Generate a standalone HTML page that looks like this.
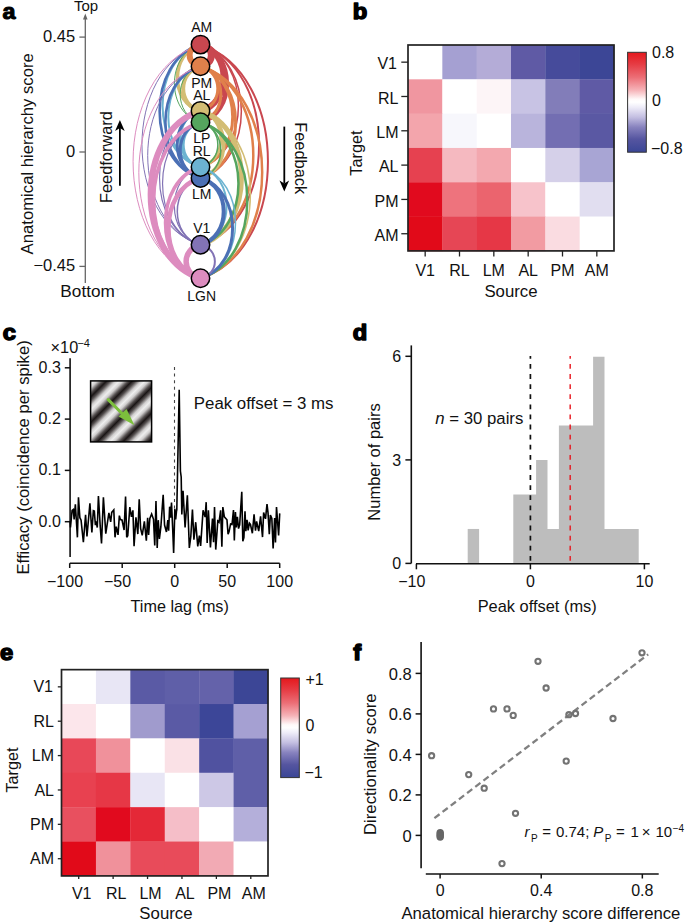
<!DOCTYPE html>
<html><head><meta charset="utf-8"><style>
html,body{margin:0;padding:0;background:#fff;width:685px;height:923px;overflow:hidden;}
svg{display:block;font-family:"Liberation Sans", sans-serif;}
</style></head><body>
<svg width="685" height="923" viewBox="0 0 685 923" font-family='"Liberation Sans", sans-serif'>
<rect width="685" height="923" fill="#fff"/>
<text transform="translate(2.60,19.00) scale(1.1,1.0)" x="0" y="0" font-size="21.2" font-weight="bold" fill="#000" stroke="#000" stroke-width="1.0" stroke-linejoin="round">a</text>
<line x1="85.30" y1="18.50" x2="85.30" y2="283.00" stroke="#666" stroke-width="1.3" stroke-linecap="butt"/>
<path d="M83.00,19.5 L85.30,13.6 L87.60,19.5 Z" fill="#666"/>
<line x1="79.40" y1="37.10" x2="85.30" y2="37.10" stroke="#666" stroke-width="1.3" stroke-linecap="butt"/>
<text x="75.20" y="41.50" font-size="16.5" text-anchor="end" font-weight="normal" fill="#111">0.45</text>
<line x1="79.40" y1="152.00" x2="85.30" y2="152.00" stroke="#666" stroke-width="1.3" stroke-linecap="butt"/>
<text x="75.20" y="157.30" font-size="16.5" text-anchor="end" font-weight="normal" fill="#111">0</text>
<line x1="79.40" y1="266.40" x2="85.30" y2="266.40" stroke="#666" stroke-width="1.3" stroke-linecap="butt"/>
<text x="75.20" y="271.40" font-size="16.5" text-anchor="end" font-weight="normal" fill="#111">−0.45</text>
<text x="86.00" y="10.80" font-size="15" text-anchor="middle" font-weight="normal" fill="#111">Top</text>
<text x="87.60" y="297.00" font-size="17.2" text-anchor="middle" font-weight="normal" fill="#111">Bottom</text>
<text x="33.30" y="153.80" font-size="16.7" text-anchor="middle" font-weight="normal" fill="#111" transform="rotate(-90 33.30 153.80)">Anatomical hierarchy score</text>
<text x="112.00" y="157.10" font-size="16.4" text-anchor="middle" font-weight="normal" fill="#111" transform="rotate(-90 112.00 157.10)">Feedforward</text>
<text x="294.50" y="158.20" font-size="16.4" text-anchor="middle" font-weight="normal" fill="#111" transform="rotate(90 294.50 158.20)">Feedback</text>
<line x1="119.90" y1="185.70" x2="119.90" y2="128.10" stroke="#000" stroke-width="1.8" stroke-linecap="butt"/>
<path d="M119.90,120.10 L115.10,131.10 L119.90,128.10 L124.70,131.10 Z" fill="#000"/>
<line x1="284.30" y1="126.60" x2="284.30" y2="183.60" stroke="#000" stroke-width="1.8" stroke-linecap="butt"/>
<path d="M284.30,191.60 L279.50,180.60 L284.30,183.60 L289.10,180.60 Z" fill="#000"/>
<path d="M200.50,44.60 C231.26,52.56 231.26,102.94 200.50,110.90" fill="none" stroke="#c9474f" stroke-width="6"/>
<path d="M200.50,44.60 C235.29,53.92 235.29,112.98 200.50,122.30" fill="none" stroke="#c9474f" stroke-width="5"/>
<path d="M200.50,44.60 C290.41,72.64 290.41,250.26 200.50,278.30" fill="none" stroke="#c9474f" stroke-width="2"/>
<path d="M200.50,44.60 C278.57,68.62 278.57,220.78 200.50,244.80" fill="none" stroke="#c9474f" stroke-width="2"/>
<path d="M200.50,44.60 C254.97,60.61 254.97,161.99 200.50,178.00" fill="none" stroke="#c9474f" stroke-width="1.5"/>
<path d="M200.50,44.60 C251.08,59.29 251.08,152.31 200.50,167.00" fill="none" stroke="#c9474f" stroke-width="1.5"/>
<path d="M200.50,66.30 C247.30,79.70 247.30,164.60 200.50,178.00" fill="none" stroke="#e0804b" stroke-width="3"/>
<path d="M200.50,66.30 C243.41,78.38 243.41,154.92 200.50,167.00" fill="none" stroke="#e0804b" stroke-width="3"/>
<path d="M200.50,66.30 C227.62,73.02 227.62,115.58 200.50,122.30" fill="none" stroke="#e0804b" stroke-width="3"/>
<path d="M200.50,66.30 C223.59,71.65 223.59,105.55 200.50,110.90" fill="none" stroke="#e0804b" stroke-width="3"/>
<path d="M200.50,66.30 C282.74,91.74 282.74,252.86 200.50,278.30" fill="none" stroke="#e0804b" stroke-width="2.5"/>
<path d="M200.50,66.30 C270.90,87.72 270.90,223.38 200.50,244.80" fill="none" stroke="#e0804b" stroke-width="2.5"/>
<path d="M200.50,110.90 C255.14,126.97 255.14,228.73 200.50,244.80" fill="none" stroke="#d3bd74" stroke-width="5"/>
<path d="M200.50,66.30 C177.41,71.65 177.41,105.55 200.50,110.90" fill="none" stroke="#d3bd74" stroke-width="4"/>
<path d="M200.50,44.60 C169.74,52.56 169.74,102.94 200.50,110.90" fill="none" stroke="#d3bd74" stroke-width="3.5"/>
<path d="M200.50,110.90 C231.54,118.95 231.54,169.95 200.50,178.00" fill="none" stroke="#d3bd74" stroke-width="3.5"/>
<path d="M200.50,110.90 C227.66,117.63 227.66,160.27 200.50,167.00" fill="none" stroke="#d3bd74" stroke-width="3"/>
<path d="M200.50,110.90 C266.98,130.99 266.98,258.21 200.50,278.30" fill="none" stroke="#d3bd74" stroke-width="1.5"/>
<path d="M200.50,122.30 C262.95,141.02 262.95,259.58 200.50,278.30" fill="none" stroke="#55a55e" stroke-width="2.5"/>
<path d="M200.50,122.30 C251.12,137.00 251.12,230.10 200.50,244.80" fill="none" stroke="#55a55e" stroke-width="2.5"/>
<path d="M200.50,122.30 C227.51,128.98 227.51,171.32 200.50,178.00" fill="none" stroke="#55a55e" stroke-width="1.5"/>
<path d="M200.50,122.30 C223.63,127.66 223.63,161.64 200.50,167.00" fill="none" stroke="#55a55e" stroke-width="1.5"/>
<path d="M200.50,66.30 C173.38,73.02 173.38,115.58 200.50,122.30" fill="none" stroke="#55a55e" stroke-width="1"/>
<path d="M200.50,44.60 C165.71,53.92 165.71,112.98 200.50,122.30" fill="none" stroke="#55a55e" stroke-width="1"/>
<path d="M200.50,122.30 C177.37,127.66 177.37,161.64 200.50,167.00" fill="none" stroke="#6cb3d1" stroke-width="3"/>
<path d="M200.50,110.90 C173.34,117.63 173.34,160.27 200.50,167.00" fill="none" stroke="#6cb3d1" stroke-width="2.5"/>
<path d="M200.50,66.30 C157.59,78.38 157.59,154.92 200.50,167.00" fill="none" stroke="#6cb3d1" stroke-width="2"/>
<path d="M200.50,44.60 C149.92,59.29 149.92,152.31 200.50,167.00" fill="none" stroke="#6cb3d1" stroke-width="2"/>
<path d="M200.50,167.00 C235.32,176.34 235.32,235.46 200.50,244.80" fill="none" stroke="#6cb3d1" stroke-width="2"/>
<path d="M200.50,167.00 C247.16,180.36 247.16,264.94 200.50,278.30" fill="none" stroke="#6cb3d1" stroke-width="1.5"/>
<path d="M200.50,178.00 C231.44,186.02 231.44,236.78 200.50,244.80" fill="none" stroke="#4b70b5" stroke-width="4"/>
<path d="M200.50,122.30 C173.49,128.98 173.49,171.32 200.50,178.00" fill="none" stroke="#4b70b5" stroke-width="3"/>
<path d="M200.50,110.90 C169.46,118.95 169.46,169.95 200.50,178.00" fill="none" stroke="#4b70b5" stroke-width="3"/>
<path d="M200.50,178.00 C243.27,190.04 243.27,266.26 200.50,278.30" fill="none" stroke="#4b70b5" stroke-width="3"/>
<path d="M200.50,66.30 C153.70,79.70 153.70,164.60 200.50,178.00" fill="none" stroke="#4b70b5" stroke-width="2.6"/>
<path d="M200.50,44.60 C146.03,60.61 146.03,161.99 200.50,178.00" fill="none" stroke="#4b70b5" stroke-width="2.6"/>
<path d="M200.50,244.80 C219.67,248.82 219.67,274.28 200.50,278.30" fill="none" stroke="#8273b5" stroke-width="2"/>
<path d="M200.50,178.00 C169.56,186.02 169.56,236.78 200.50,244.80" fill="none" stroke="#8273b5" stroke-width="1.5"/>
<path d="M200.50,167.00 C165.68,176.34 165.68,235.46 200.50,244.80" fill="none" stroke="#8273b5" stroke-width="1.2"/>
<path d="M200.50,122.30 C149.88,137.00 149.88,230.10 200.50,244.80" fill="none" stroke="#8273b5" stroke-width="1.2"/>
<path d="M200.50,110.90 C145.86,126.97 145.86,228.73 200.50,244.80" fill="none" stroke="#8273b5" stroke-width="1.2"/>
<path d="M200.50,66.30 C130.10,87.72 130.10,223.38 200.50,244.80" fill="none" stroke="#8273b5" stroke-width="1.0"/>
<path d="M200.50,44.60 C122.43,68.62 122.43,220.78 200.50,244.80" fill="none" stroke="#8273b5" stroke-width="1.0"/>
<path d="M200.50,110.90 C134.02,130.99 134.02,258.21 200.50,278.30" fill="none" stroke="#dd8cbf" stroke-width="6"/>
<path d="M200.50,244.80 C181.33,248.82 181.33,274.28 200.50,278.30" fill="none" stroke="#dd8cbf" stroke-width="5.5"/>
<path d="M200.50,178.00 C157.73,190.04 157.73,266.26 200.50,278.30" fill="none" stroke="#dd8cbf" stroke-width="4.5"/>
<path d="M200.50,167.00 C153.84,180.36 153.84,264.94 200.50,278.30" fill="none" stroke="#dd8cbf" stroke-width="3.5"/>
<path d="M200.50,122.30 C138.05,141.02 138.05,259.58 200.50,278.30" fill="none" stroke="#dd8cbf" stroke-width="3.5"/>
<path d="M200.50,66.30 C118.26,91.74 118.26,252.86 200.50,278.30" fill="none" stroke="#dd8cbf" stroke-width="1.0"/>
<path d="M200.50,44.60 C110.59,72.64 110.59,250.26 200.50,278.30" fill="none" stroke="#dd8cbf" stroke-width="1.0"/>
<path d="M200.50,44.60 C214.97,47.20 214.97,63.70 200.50,66.30" fill="none" stroke="#c9474f" stroke-width="7"/>
<path d="M200.50,44.60 C186.03,47.20 186.03,63.70 200.50,66.30" fill="none" stroke="#e0804b" stroke-width="6"/>
<path d="M200.50,110.90 C208.10,112.27 208.10,120.93 200.50,122.30" fill="none" stroke="#d3bd74" stroke-width="3"/>
<path d="M200.50,167.00 C193.17,168.32 193.17,176.68 200.50,178.00" fill="none" stroke="#4b70b5" stroke-width="2"/>
<path d="M200.50,167.00 C207.83,168.32 207.83,176.68 200.50,178.00" fill="none" stroke="#6cb3d1" stroke-width="2"/>
<path d="M200.50,110.90 C192.90,112.27 192.90,120.93 200.50,122.30" fill="none" stroke="#55a55e" stroke-width="1.5"/>
<circle cx="200.5" cy="44.6" r="9.2" fill="#c9474f" stroke="#000" stroke-width="1.5"/>
<circle cx="200.5" cy="66.3" r="9.2" fill="#e0804b" stroke="#000" stroke-width="1.5"/>
<circle cx="200.5" cy="110.9" r="9.2" fill="#d3bd74" stroke="#000" stroke-width="1.5"/>
<circle cx="200.5" cy="122.3" r="9.2" fill="#55a55e" stroke="#000" stroke-width="1.5"/>
<circle cx="200.5" cy="178.0" r="9.2" fill="#4b70b5" stroke="#000" stroke-width="1.5"/>
<circle cx="200.5" cy="167.0" r="9.2" fill="#6cb3d1" stroke="#000" stroke-width="1.5"/>
<circle cx="200.5" cy="244.8" r="9.2" fill="#8273b5" stroke="#000" stroke-width="1.5"/>
<circle cx="200.5" cy="278.3" r="9.2" fill="#dd8cbf" stroke="#000" stroke-width="1.5"/>
<text x="201.70" y="32.30" font-size="14" text-anchor="middle" font-weight="normal" fill="#111">AM</text>
<text x="201.70" y="87.90" font-size="14" text-anchor="middle" font-weight="normal" fill="#111">PM</text>
<text x="201.70" y="99.60" font-size="14" text-anchor="middle" font-weight="normal" fill="#111">AL</text>
<text x="201.70" y="143.20" font-size="14" text-anchor="middle" font-weight="normal" fill="#111">LP</text>
<text x="201.70" y="156.20" font-size="14" text-anchor="middle" font-weight="normal" fill="#111">RL</text>
<text x="201.70" y="199.00" font-size="14" text-anchor="middle" font-weight="normal" fill="#111">LM</text>
<text x="201.70" y="233.40" font-size="14" text-anchor="middle" font-weight="normal" fill="#111">V1</text>
<text x="201.70" y="301.40" font-size="14" text-anchor="middle" font-weight="normal" fill="#111">LGN</text>
<text transform="translate(352.86,18.70) scale(1.12,1)" x="0" y="0" font-size="21.2" font-weight="bold" fill="#000" stroke="#000" stroke-width="1.4" stroke-linejoin="round">b</text>
<rect x="408.00" y="45.00" width="34.63" height="34.62" fill="rgb(255,255,255)"/>
<rect x="442.33" y="45.00" width="34.63" height="34.62" fill="rgb(165,160,210)"/>
<rect x="476.67" y="45.00" width="34.63" height="34.62" fill="rgb(180,172,215)"/>
<rect x="511.00" y="45.00" width="34.63" height="34.62" fill="rgb(95,90,165)"/>
<rect x="545.33" y="45.00" width="34.63" height="34.62" fill="rgb(70,75,155)"/>
<rect x="579.67" y="45.00" width="34.63" height="34.62" fill="rgb(60,70,150)"/>
<rect x="408.00" y="79.32" width="34.63" height="34.62" fill="rgb(240,150,160)"/>
<rect x="442.33" y="79.32" width="34.63" height="34.62" fill="rgb(255,255,255)"/>
<rect x="476.67" y="79.32" width="34.63" height="34.62" fill="rgb(253,245,247)"/>
<rect x="511.00" y="79.32" width="34.63" height="34.62" fill="rgb(200,195,228)"/>
<rect x="545.33" y="79.32" width="34.63" height="34.62" fill="rgb(130,125,185)"/>
<rect x="579.67" y="79.32" width="34.63" height="34.62" fill="rgb(95,90,165)"/>
<rect x="408.00" y="113.63" width="34.63" height="34.62" fill="rgb(243,165,172)"/>
<rect x="442.33" y="113.63" width="34.63" height="34.62" fill="rgb(247,247,252)"/>
<rect x="476.67" y="113.63" width="34.63" height="34.62" fill="rgb(255,255,255)"/>
<rect x="511.00" y="113.63" width="34.63" height="34.62" fill="rgb(185,180,220)"/>
<rect x="545.33" y="113.63" width="34.63" height="34.62" fill="rgb(115,110,178)"/>
<rect x="579.67" y="113.63" width="34.63" height="34.62" fill="rgb(90,88,163)"/>
<rect x="408.00" y="147.95" width="34.63" height="34.62" fill="rgb(230,65,80)"/>
<rect x="442.33" y="147.95" width="34.63" height="34.62" fill="rgb(245,185,192)"/>
<rect x="476.67" y="147.95" width="34.63" height="34.62" fill="rgb(243,168,175)"/>
<rect x="511.00" y="147.95" width="34.63" height="34.62" fill="rgb(255,255,255)"/>
<rect x="545.33" y="147.95" width="34.63" height="34.62" fill="rgb(213,208,233)"/>
<rect x="579.67" y="147.95" width="34.63" height="34.62" fill="rgb(168,165,212)"/>
<rect x="408.00" y="182.27" width="34.63" height="34.62" fill="rgb(225,10,30)"/>
<rect x="442.33" y="182.27" width="34.63" height="34.62" fill="rgb(238,115,125)"/>
<rect x="476.67" y="182.27" width="34.63" height="34.62" fill="rgb(235,100,110)"/>
<rect x="511.00" y="182.27" width="34.63" height="34.62" fill="rgb(247,195,203)"/>
<rect x="545.33" y="182.27" width="34.63" height="34.62" fill="rgb(255,255,255)"/>
<rect x="579.67" y="182.27" width="34.63" height="34.62" fill="rgb(225,222,240)"/>
<rect x="408.00" y="216.58" width="34.63" height="34.62" fill="rgb(225,10,25)"/>
<rect x="442.33" y="216.58" width="34.63" height="34.62" fill="rgb(230,70,85)"/>
<rect x="476.67" y="216.58" width="34.63" height="34.62" fill="rgb(230,55,70)"/>
<rect x="511.00" y="216.58" width="34.63" height="34.62" fill="rgb(242,155,162)"/>
<rect x="545.33" y="216.58" width="34.63" height="34.62" fill="rgb(250,220,225)"/>
<rect x="579.67" y="216.58" width="34.63" height="34.62" fill="rgb(255,255,255)"/>
<rect x="408.00" y="45.00" width="206.00" height="205.90" fill="none" stroke="#222" stroke-width="1.7"/>
<line x1="401.30" y1="62.16" x2="408.00" y2="62.16" stroke="#222" stroke-width="1.3" stroke-linecap="butt"/>
<text x="397.00" y="69.36" font-size="16" text-anchor="end" font-weight="normal" fill="#111">V1</text>
<line x1="425.17" y1="250.90" x2="425.17" y2="256.50" stroke="#222" stroke-width="1.3" stroke-linecap="butt"/>
<text x="425.17" y="275.90" font-size="16" text-anchor="middle" font-weight="normal" fill="#111">V1</text>
<line x1="401.30" y1="96.48" x2="408.00" y2="96.48" stroke="#222" stroke-width="1.3" stroke-linecap="butt"/>
<text x="398.50" y="103.68" font-size="16" text-anchor="end" font-weight="normal" fill="#111">RL</text>
<line x1="459.50" y1="250.90" x2="459.50" y2="256.50" stroke="#222" stroke-width="1.3" stroke-linecap="butt"/>
<text x="459.50" y="275.90" font-size="16" text-anchor="middle" font-weight="normal" fill="#111">RL</text>
<line x1="401.30" y1="130.79" x2="408.00" y2="130.79" stroke="#222" stroke-width="1.3" stroke-linecap="butt"/>
<text x="398.50" y="137.99" font-size="16" text-anchor="end" font-weight="normal" fill="#111">LM</text>
<line x1="493.83" y1="250.90" x2="493.83" y2="256.50" stroke="#222" stroke-width="1.3" stroke-linecap="butt"/>
<text x="493.83" y="275.90" font-size="16" text-anchor="middle" font-weight="normal" fill="#111">LM</text>
<line x1="401.30" y1="165.11" x2="408.00" y2="165.11" stroke="#222" stroke-width="1.3" stroke-linecap="butt"/>
<text x="398.50" y="172.31" font-size="16" text-anchor="end" font-weight="normal" fill="#111">AL</text>
<line x1="528.17" y1="250.90" x2="528.17" y2="256.50" stroke="#222" stroke-width="1.3" stroke-linecap="butt"/>
<text x="528.17" y="275.90" font-size="16" text-anchor="middle" font-weight="normal" fill="#111">AL</text>
<line x1="401.30" y1="199.43" x2="408.00" y2="199.43" stroke="#222" stroke-width="1.3" stroke-linecap="butt"/>
<text x="398.50" y="206.62" font-size="16" text-anchor="end" font-weight="normal" fill="#111">PM</text>
<line x1="562.50" y1="250.90" x2="562.50" y2="256.50" stroke="#222" stroke-width="1.3" stroke-linecap="butt"/>
<text x="562.50" y="275.90" font-size="16" text-anchor="middle" font-weight="normal" fill="#111">PM</text>
<line x1="401.30" y1="233.74" x2="408.00" y2="233.74" stroke="#222" stroke-width="1.3" stroke-linecap="butt"/>
<text x="398.50" y="240.94" font-size="16" text-anchor="end" font-weight="normal" fill="#111">AM</text>
<line x1="596.83" y1="250.90" x2="596.83" y2="256.50" stroke="#222" stroke-width="1.3" stroke-linecap="butt"/>
<text x="596.83" y="275.90" font-size="16" text-anchor="middle" font-weight="normal" fill="#111">AM</text>
<text x="511.00" y="297.20" font-size="16.8" text-anchor="middle" font-weight="normal" fill="#111">Source</text>
<text x="361.70" y="153.00" font-size="16.3" text-anchor="middle" font-weight="normal" fill="#111" transform="rotate(-90 361.70 153.00)">Target</text>
<defs><linearGradient id="cb1" x1="0" y1="0" x2="0" y2="1">
<stop offset="0" stop-color="rgb(228,24,28)"/>
<stop offset="0.12" stop-color="rgb(230,60,68)"/>
<stop offset="0.25" stop-color="rgb(236,110,118)"/>
<stop offset="0.38" stop-color="rgb(246,180,185)"/>
<stop offset="0.47" stop-color="rgb(255,250,250)"/>
<stop offset="0.50" stop-color="rgb(255,255,255)"/>
<stop offset="0.55" stop-color="rgb(238,236,248)"/>
<stop offset="0.65" stop-color="rgb(195,190,225)"/>
<stop offset="0.75" stop-color="rgb(135,130,190)"/>
<stop offset="0.87" stop-color="rgb(85,85,160)"/>
<stop offset="1" stop-color="rgb(58,70,150)"/>
</linearGradient></defs>
<rect x="627.60" y="52.30" width="18.70" height="99.90" fill="url(#cb1)" stroke="#333" stroke-width="1"/>
<text x="652.00" y="57.60" font-size="16" text-anchor="start" font-weight="normal" fill="#111">0.8</text>
<text x="652.00" y="106.20" font-size="16" text-anchor="start" font-weight="normal" fill="#111">0</text>
<text x="651.00" y="154.00" font-size="16" text-anchor="start" font-weight="normal" fill="#111">−0.8</text>
<text transform="translate(2.65,340.10) scale(1.12,1)" x="0" y="0" font-size="21.2" font-weight="bold" fill="#000" stroke="#000" stroke-width="1.4" stroke-linejoin="round">c</text>
<line x1="70.10" y1="358.20" x2="70.10" y2="557.10" stroke="#111" stroke-width="1.6" stroke-linecap="butt"/>
<line x1="64.80" y1="367.80" x2="70.10" y2="367.80" stroke="#111" stroke-width="1.5" stroke-linecap="butt"/>
<text x="60.80" y="372.80" font-size="16" text-anchor="end" font-weight="normal" fill="#111">0.3</text>
<line x1="64.80" y1="419.10" x2="70.10" y2="419.10" stroke="#111" stroke-width="1.5" stroke-linecap="butt"/>
<text x="60.80" y="424.10" font-size="16" text-anchor="end" font-weight="normal" fill="#111">0.2</text>
<line x1="64.80" y1="470.40" x2="70.10" y2="470.40" stroke="#111" stroke-width="1.5" stroke-linecap="butt"/>
<text x="60.80" y="475.40" font-size="16" text-anchor="end" font-weight="normal" fill="#111">0.1</text>
<line x1="64.80" y1="521.70" x2="70.10" y2="521.70" stroke="#111" stroke-width="1.5" stroke-linecap="butt"/>
<text x="60.80" y="526.70" font-size="16" text-anchor="end" font-weight="normal" fill="#111">0.0</text>
<text x="50.60" y="352.60" font-size="16.3" text-anchor="start" font-weight="normal" fill="#111">×10</text>
<text x="77.40" y="347.40" font-size="11" text-anchor="start" font-weight="normal" fill="#111">−4</text>
<text x="29.40" y="457.40" font-size="16.7" text-anchor="middle" font-weight="normal" fill="#111" transform="rotate(-90 29.40 457.40)">Efficacy (coincidence per spike)</text>
<line x1="69.80" y1="563.20" x2="279.70" y2="563.20" stroke="#111" stroke-width="1.6" stroke-linecap="butt"/>
<line x1="69.70" y1="563.20" x2="69.70" y2="568.00" stroke="#111" stroke-width="1.5" stroke-linecap="butt"/>
<text x="69.70" y="587.20" font-size="16" text-anchor="middle" font-weight="normal" fill="#111">100</text>
<text x="56.36" y="587.2" font-size="16" text-anchor="end" fill="#111">−</text>
<line x1="122.20" y1="563.20" x2="122.20" y2="568.00" stroke="#111" stroke-width="1.5" stroke-linecap="butt"/>
<text x="122.20" y="587.20" font-size="16" text-anchor="middle" font-weight="normal" fill="#111">50</text>
<text x="113.30" y="587.2" font-size="16" text-anchor="end" fill="#111">−</text>
<line x1="174.70" y1="563.20" x2="174.70" y2="568.00" stroke="#111" stroke-width="1.5" stroke-linecap="butt"/>
<text x="174.70" y="587.20" font-size="16" text-anchor="middle" font-weight="normal" fill="#111">0</text>
<line x1="227.20" y1="563.20" x2="227.20" y2="568.00" stroke="#111" stroke-width="1.5" stroke-linecap="butt"/>
<text x="227.20" y="587.20" font-size="16" text-anchor="middle" font-weight="normal" fill="#111">50</text>
<line x1="279.70" y1="563.20" x2="279.70" y2="568.00" stroke="#111" stroke-width="1.5" stroke-linecap="butt"/>
<text x="279.70" y="587.20" font-size="16" text-anchor="middle" font-weight="normal" fill="#111">100</text>
<text x="179.70" y="611.70" font-size="16.2" text-anchor="middle" font-weight="normal" fill="#111">Time lag (ms)</text>
<path d="M70.10,521.00 L70.45,527.52 L72.09,510.35 L73.31,509.53 L74.13,519.34 L75.36,504.22 L76.18,517.71 L77.40,537.33 L78.47,497.26 L79.86,517.71 L81.08,520.16 L83.37,542.24 L85.58,514.84 L86.97,536.51 L89.91,503.40 L91.88,532.42 L93.35,510.76 L94.33,511.17 L95.39,525.07 L96.21,521.39 L97.27,527.52 L98.42,496.04 L100.30,527.52 L101.52,543.46 L103.40,497.26 L105.78,533.65 L108.88,512.80 L110.68,521.79 L111.74,512.39 L113.79,509.94 L115.02,537.33 L116.24,526.70 L118.04,534.88 L119.35,515.66 L120.33,519.34 L121.97,520.16 L122.04,520.16 L124.09,529.97 L125.56,496.45 L126.70,537.33 L127.77,535.70 L129.81,507.08 L131.45,516.89 L132.92,510.35 L134.06,546.32 L135.94,517.30 L137.83,534.06 L139.22,499.31 L140.61,528.34 L142.24,535.29 L144.37,521.39 L146.33,540.60 L147.64,517.71 L148.62,534.88 L149.84,518.52 L151.64,514.03 L153.52,519.34 L154.75,545.51 L155.98,500.94 L157.20,547.96 L158.27,520.16 L159.41,538.97 L160.88,526.70 L163.17,494.81 L164.56,525.07 L166.44,532.02 L167.83,520.16 L168.65,530.79 L169.63,506.67 L170.53,517.71 L171.51,502.58 L172.74,529.97 L173.64,552.87 L174.86,508.71 L175.68,519.34 L176.50,511.17 L176.80,510.00 L179.20,389.80 L180.40,471.00 L181.20,477.00 L181.81,514.44 L183.04,490.72 L185.08,527.52 L187.37,495.22 L189.33,547.96 L190.81,536.51 L192.44,509.53 L193.91,539.78 L195.71,522.20 L197.76,546.32 L199.39,535.70 L200.62,545.92 L203.07,510.35 L205.12,516.89 L206.18,502.17 L207.16,543.05 L208.39,510.35 L210.43,547.55 L212.47,518.52 L213.54,542.24 L214.52,507.08 L215.74,549.60 L217.79,520.98 L219.02,522.20 L220.65,510.35 L221.88,546.73 L222.86,507.08 L224.33,516.89 L226.96,519.72 L228.06,534.11 L229.08,531.57 L230.60,523.95 L232.04,524.37 L233.48,509.98 L234.33,540.46 L235.43,512.10 L236.28,527.34 L237.38,516.75 L238.56,528.61 L239.66,524.80 L241.78,491.77 L242.80,541.31 L243.90,537.50 L245.00,511.25 L245.85,531.15 L247.03,519.72 L248.13,530.30 L249.40,523.10 L250.42,524.37 L252.37,533.26 L254.06,514.21 L255.50,530.72 L256.60,521.41 L258.72,531.15 L260.58,516.33 L262.53,537.07 L263.63,512.52 L265.49,518.87 L267.01,504.05 L268.03,512.94 L269.30,534.11 L270.40,515.06 L271.84,518.45 L273.11,548.51 L274.64,518.02 L275.48,542.58 L276.50,507.02 L278.61,535.38 L279.72,513.37" fill="none" stroke="#000" stroke-width="1.6" stroke-linejoin="miter" stroke-miterlimit="3"/>
<line x1="174.50" y1="367.00" x2="174.50" y2="509.00" stroke="#444" stroke-width="1.1" stroke-linecap="butt" stroke-dasharray="3,3.6"/>
<defs><linearGradient id="grat" gradientUnits="userSpaceOnUse" x1="237.35" y1="237.35" x2="250.2" y2="250.2" spreadMethod="repeat">
<stop offset="0" stop-color="#eeeeee"/>
<stop offset="0.15" stop-color="#d0cece"/>
<stop offset="0.35" stop-color="#555050"/>
<stop offset="0.5" stop-color="#1a1515"/>
<stop offset="0.65" stop-color="#555050"/>
<stop offset="0.85" stop-color="#d0cece"/>
<stop offset="1" stop-color="#eeeeee"/>
</linearGradient></defs>
<rect x="90.60" y="380.90" width="61.00" height="61.00" fill="url(#grat)" stroke="#000" stroke-width="1.5"/>
<line x1="108.20" y1="399.60" x2="122.50" y2="414.00" stroke="#7cbf3c" stroke-width="3.0" stroke-linecap="round"/>
<path d="M134.5,425.2 L118.5,416.5 L126.5,409.0 Z" fill="#7cbf3c"/>
<text x="193.80" y="409.20" font-size="16.85" text-anchor="start" font-weight="normal" fill="#111">Peak offset = 3 ms</text>
<text transform="translate(352.85,339.70) scale(1.12,1)" x="0" y="0" font-size="21.2" font-weight="bold" fill="#000" stroke="#000" stroke-width="1.4" stroke-linejoin="round">d</text>
<line x1="411.30" y1="345.40" x2="411.30" y2="563.40" stroke="#111" stroke-width="1.6" stroke-linecap="butt"/>
<line x1="405.40" y1="356.30" x2="411.30" y2="356.30" stroke="#111" stroke-width="1.5" stroke-linecap="butt"/>
<text x="401.20" y="362.30" font-size="16" text-anchor="end" font-weight="normal" fill="#111">6</text>
<line x1="405.40" y1="459.90" x2="411.30" y2="459.90" stroke="#111" stroke-width="1.5" stroke-linecap="butt"/>
<text x="401.20" y="465.90" font-size="16" text-anchor="end" font-weight="normal" fill="#111">3</text>
<line x1="405.40" y1="563.40" x2="411.30" y2="563.40" stroke="#111" stroke-width="1.5" stroke-linecap="butt"/>
<text x="401.20" y="569.40" font-size="16" text-anchor="end" font-weight="normal" fill="#111">0</text>
<path d="M467.70,563.40 L467.70,528.95 L479.10,528.95 L479.10,563.40 Z" fill="#bdbdbd"/>
<path d="M513.30,563.40 L513.30,494.50 L524.70,494.50 L524.70,494.50 L536.10,494.50 L536.10,460.05 L547.50,460.05 L547.50,528.95 L558.90,528.95 L558.90,425.60 L570.30,425.60 L570.30,425.60 L581.70,425.60 L581.70,425.60 L593.10,425.60 L593.10,356.70 L604.50,356.70 L604.50,528.95 L615.90,528.95 L615.90,528.95 L627.30,528.95 L627.30,528.95 L638.70,528.95 L638.70,563.40 Z" fill="#bdbdbd"/>
<line x1="416.00" y1="563.80" x2="649.70" y2="563.80" stroke="#111" stroke-width="1.6" stroke-linecap="butt"/>
<line x1="416.40" y1="563.80" x2="416.40" y2="569.30" stroke="#111" stroke-width="1.5" stroke-linecap="butt"/>
<text x="416.40" y="587.00" font-size="16" text-anchor="middle" font-weight="normal" fill="#111">10</text>
<text x="407.50" y="587.0" font-size="16" text-anchor="end" fill="#111">−</text>
<line x1="530.40" y1="563.80" x2="530.40" y2="569.30" stroke="#111" stroke-width="1.5" stroke-linecap="butt"/>
<text x="530.40" y="587.00" font-size="16" text-anchor="middle" font-weight="normal" fill="#111">0</text>
<line x1="644.40" y1="563.80" x2="644.40" y2="569.30" stroke="#111" stroke-width="1.5" stroke-linecap="butt"/>
<text x="644.40" y="587.00" font-size="16" text-anchor="middle" font-weight="normal" fill="#111">10</text>
<line x1="530.40" y1="356.1" x2="530.40" y2="563" stroke="#111" stroke-width="1.7" stroke-dasharray="4.8,5.3" stroke-dashoffset="2.2"/>
<line x1="570.19" y1="356.1" x2="570.19" y2="563" stroke="#e8141c" stroke-width="1.4" stroke-dasharray="4.8,5.3" stroke-dashoffset="2.2"/>
<text x="537.20" y="612.40" font-size="16.4" text-anchor="middle" font-weight="normal" fill="#111">Peak offset (ms)</text>
<text x="379.90" y="462.00" font-size="16.5" text-anchor="middle" font-weight="normal" fill="#111" transform="rotate(-90 379.90 462.00)">Number of pairs</text>
<text x="435.3" y="424.2" font-size="16.75" fill="#111"><tspan font-style="italic">n</tspan> = 30 pairs</text>
<text transform="translate(0.05,660.30) scale(1.12,1)" x="0" y="0" font-size="21.2" font-weight="bold" fill="#000" stroke="#000" stroke-width="1.4" stroke-linejoin="round">e</text>
<rect x="61.50" y="669.65" width="34.72" height="34.67" fill="rgb(255,255,255)"/>
<rect x="95.92" y="669.65" width="34.72" height="34.67" fill="rgb(232,230,245)"/>
<rect x="130.33" y="669.65" width="34.72" height="34.67" fill="rgb(90,90,165)"/>
<rect x="164.75" y="669.65" width="34.72" height="34.67" fill="rgb(95,95,168)"/>
<rect x="199.17" y="669.65" width="34.72" height="34.67" fill="rgb(100,98,170)"/>
<rect x="233.58" y="669.65" width="34.72" height="34.67" fill="rgb(60,70,150)"/>
<rect x="61.50" y="704.02" width="34.72" height="34.67" fill="rgb(252,230,235)"/>
<rect x="95.92" y="704.02" width="34.72" height="34.67" fill="rgb(255,255,255)"/>
<rect x="130.33" y="704.02" width="34.72" height="34.67" fill="rgb(160,155,205)"/>
<rect x="164.75" y="704.02" width="34.72" height="34.67" fill="rgb(90,90,165)"/>
<rect x="199.17" y="704.02" width="34.72" height="34.67" fill="rgb(60,70,152)"/>
<rect x="233.58" y="704.02" width="34.72" height="34.67" fill="rgb(165,160,210)"/>
<rect x="61.50" y="738.40" width="34.72" height="34.67" fill="rgb(232,72,88)"/>
<rect x="95.92" y="738.40" width="34.72" height="34.67" fill="rgb(240,145,155)"/>
<rect x="130.33" y="738.40" width="34.72" height="34.67" fill="rgb(255,255,255)"/>
<rect x="164.75" y="738.40" width="34.72" height="34.67" fill="rgb(250,225,230)"/>
<rect x="199.17" y="738.40" width="34.72" height="34.67" fill="rgb(80,82,160)"/>
<rect x="233.58" y="738.40" width="34.72" height="34.67" fill="rgb(95,95,168)"/>
<rect x="61.50" y="772.77" width="34.72" height="34.67" fill="rgb(232,65,80)"/>
<rect x="95.92" y="772.77" width="34.72" height="34.67" fill="rgb(230,55,70)"/>
<rect x="130.33" y="772.77" width="34.72" height="34.67" fill="rgb(232,230,245)"/>
<rect x="164.75" y="772.77" width="34.72" height="34.67" fill="rgb(255,255,255)"/>
<rect x="199.17" y="772.77" width="34.72" height="34.67" fill="rgb(205,200,230)"/>
<rect x="233.58" y="772.77" width="34.72" height="34.67" fill="rgb(95,95,168)"/>
<rect x="61.50" y="807.15" width="34.72" height="34.67" fill="rgb(232,80,95)"/>
<rect x="95.92" y="807.15" width="34.72" height="34.67" fill="rgb(225,10,30)"/>
<rect x="130.33" y="807.15" width="34.72" height="34.67" fill="rgb(228,40,55)"/>
<rect x="164.75" y="807.15" width="34.72" height="34.67" fill="rgb(245,190,200)"/>
<rect x="199.17" y="807.15" width="34.72" height="34.67" fill="rgb(255,255,255)"/>
<rect x="233.58" y="807.15" width="34.72" height="34.67" fill="rgb(180,175,218)"/>
<rect x="61.50" y="841.52" width="34.72" height="34.67" fill="rgb(225,10,25)"/>
<rect x="95.92" y="841.52" width="34.72" height="34.67" fill="rgb(240,145,155)"/>
<rect x="130.33" y="841.52" width="34.72" height="34.67" fill="rgb(232,75,90)"/>
<rect x="164.75" y="841.52" width="34.72" height="34.67" fill="rgb(232,75,90)"/>
<rect x="199.17" y="841.52" width="34.72" height="34.67" fill="rgb(242,170,180)"/>
<rect x="233.58" y="841.52" width="34.72" height="34.67" fill="rgb(255,255,255)"/>
<rect x="61.50" y="669.65" width="206.50" height="206.25" fill="none" stroke="#222" stroke-width="1.7"/>
<line x1="57.80" y1="686.84" x2="61.50" y2="686.84" stroke="#222" stroke-width="1.3" stroke-linecap="butt"/>
<text x="53.00" y="692.44" font-size="16" text-anchor="end" font-weight="normal" fill="#111">V1</text>
<line x1="78.71" y1="875.90" x2="78.71" y2="879.00" stroke="#222" stroke-width="1.3" stroke-linecap="butt"/>
<text x="81.71" y="898.50" font-size="16" text-anchor="middle" font-weight="normal" fill="#111">V1</text>
<line x1="57.80" y1="721.21" x2="61.50" y2="721.21" stroke="#222" stroke-width="1.3" stroke-linecap="butt"/>
<text x="54.00" y="726.81" font-size="16" text-anchor="end" font-weight="normal" fill="#111">RL</text>
<line x1="113.12" y1="875.90" x2="113.12" y2="879.00" stroke="#222" stroke-width="1.3" stroke-linecap="butt"/>
<text x="116.12" y="898.50" font-size="16" text-anchor="middle" font-weight="normal" fill="#111">RL</text>
<line x1="57.80" y1="755.59" x2="61.50" y2="755.59" stroke="#222" stroke-width="1.3" stroke-linecap="butt"/>
<text x="54.00" y="761.19" font-size="16" text-anchor="end" font-weight="normal" fill="#111">LM</text>
<line x1="147.54" y1="875.90" x2="147.54" y2="879.00" stroke="#222" stroke-width="1.3" stroke-linecap="butt"/>
<text x="150.54" y="898.50" font-size="16" text-anchor="middle" font-weight="normal" fill="#111">LM</text>
<line x1="57.80" y1="789.96" x2="61.50" y2="789.96" stroke="#222" stroke-width="1.3" stroke-linecap="butt"/>
<text x="54.00" y="795.56" font-size="16" text-anchor="end" font-weight="normal" fill="#111">AL</text>
<line x1="181.96" y1="875.90" x2="181.96" y2="879.00" stroke="#222" stroke-width="1.3" stroke-linecap="butt"/>
<text x="184.96" y="898.50" font-size="16" text-anchor="middle" font-weight="normal" fill="#111">AL</text>
<line x1="57.80" y1="824.34" x2="61.50" y2="824.34" stroke="#222" stroke-width="1.3" stroke-linecap="butt"/>
<text x="54.00" y="829.94" font-size="16" text-anchor="end" font-weight="normal" fill="#111">PM</text>
<line x1="216.38" y1="875.90" x2="216.38" y2="879.00" stroke="#222" stroke-width="1.3" stroke-linecap="butt"/>
<text x="219.38" y="898.50" font-size="16" text-anchor="middle" font-weight="normal" fill="#111">PM</text>
<line x1="57.80" y1="858.71" x2="61.50" y2="858.71" stroke="#222" stroke-width="1.3" stroke-linecap="butt"/>
<text x="54.00" y="864.31" font-size="16" text-anchor="end" font-weight="normal" fill="#111">AM</text>
<line x1="250.79" y1="875.90" x2="250.79" y2="879.00" stroke="#222" stroke-width="1.3" stroke-linecap="butt"/>
<text x="253.79" y="898.50" font-size="16" text-anchor="middle" font-weight="normal" fill="#111">AM</text>
<text x="165.95" y="918.80" font-size="16.8" text-anchor="middle" font-weight="normal" fill="#111">Source</text>
<text x="18.20" y="770.00" font-size="16.3" text-anchor="middle" font-weight="normal" fill="#111" transform="rotate(-90 18.20 770.00)">Target</text>
<defs><linearGradient id="cb2" x1="0" y1="0" x2="0" y2="1">
<stop offset="0" stop-color="rgb(228,24,28)"/>
<stop offset="0.12" stop-color="rgb(230,60,68)"/>
<stop offset="0.25" stop-color="rgb(236,110,118)"/>
<stop offset="0.38" stop-color="rgb(246,180,185)"/>
<stop offset="0.47" stop-color="rgb(255,250,250)"/>
<stop offset="0.50" stop-color="rgb(255,255,255)"/>
<stop offset="0.55" stop-color="rgb(238,236,248)"/>
<stop offset="0.65" stop-color="rgb(195,190,225)"/>
<stop offset="0.75" stop-color="rgb(135,130,190)"/>
<stop offset="0.87" stop-color="rgb(85,85,160)"/>
<stop offset="1" stop-color="rgb(58,70,150)"/>
</linearGradient></defs>
<rect x="280.70" y="678.00" width="18.60" height="99.60" fill="url(#cb2)" stroke="#333" stroke-width="1"/>
<text x="305.50" y="684.70" font-size="16" text-anchor="start" font-weight="normal" fill="#111">+1</text>
<text x="305.50" y="731.30" font-size="16" text-anchor="start" font-weight="normal" fill="#111">0</text>
<text x="304.50" y="778.40" font-size="16" text-anchor="start" font-weight="normal" fill="#111">−1</text>
<text transform="translate(353.35,660.10) scale(1.12,1)" x="0" y="0" font-size="21.2" font-weight="bold" fill="#000" stroke="#000" stroke-width="1.4" stroke-linejoin="round">f</text>
<line x1="421.10" y1="641.90" x2="421.10" y2="868.30" stroke="#111" stroke-width="1.6" stroke-linecap="butt"/>
<line x1="415.60" y1="673.40" x2="421.10" y2="673.40" stroke="#111" stroke-width="1.5" stroke-linecap="butt"/>
<text x="411.80" y="679.60" font-size="16.5" text-anchor="end" font-weight="normal" fill="#111">0.8</text>
<line x1="415.60" y1="713.90" x2="421.10" y2="713.90" stroke="#111" stroke-width="1.5" stroke-linecap="butt"/>
<text x="411.80" y="720.10" font-size="16.5" text-anchor="end" font-weight="normal" fill="#111">0.6</text>
<line x1="415.60" y1="754.40" x2="421.10" y2="754.40" stroke="#111" stroke-width="1.5" stroke-linecap="butt"/>
<text x="411.80" y="760.60" font-size="16.5" text-anchor="end" font-weight="normal" fill="#111">0.4</text>
<line x1="415.60" y1="794.90" x2="421.10" y2="794.90" stroke="#111" stroke-width="1.5" stroke-linecap="butt"/>
<text x="411.80" y="801.10" font-size="16.5" text-anchor="end" font-weight="normal" fill="#111">0.2</text>
<line x1="415.60" y1="835.40" x2="421.10" y2="835.40" stroke="#111" stroke-width="1.5" stroke-linecap="butt"/>
<text x="411.80" y="841.60" font-size="16.5" text-anchor="end" font-weight="normal" fill="#111">0</text>
<line x1="425.80" y1="874.00" x2="658.70" y2="874.00" stroke="#111" stroke-width="1.6" stroke-linecap="butt"/>
<line x1="440.10" y1="874.00" x2="440.10" y2="878.50" stroke="#111" stroke-width="1.5" stroke-linecap="butt"/>
<text x="440.10" y="895.60" font-size="16" text-anchor="middle" font-weight="normal" fill="#111">0</text>
<line x1="541.22" y1="874.00" x2="541.22" y2="878.50" stroke="#111" stroke-width="1.5" stroke-linecap="butt"/>
<text x="541.22" y="895.60" font-size="16" text-anchor="middle" font-weight="normal" fill="#111">0.4</text>
<line x1="642.34" y1="874.00" x2="642.34" y2="878.50" stroke="#111" stroke-width="1.5" stroke-linecap="butt"/>
<text x="642.34" y="895.60" font-size="16" text-anchor="middle" font-weight="normal" fill="#111">0.8</text>
<text x="540.90" y="919.00" font-size="16.7" text-anchor="middle" font-weight="normal" fill="#111">Anatomical hierarchy score difference</text>
<text x="376.00" y="764.20" font-size="16.8" text-anchor="middle" font-weight="normal" fill="#111" transform="rotate(-90 376.00 764.20)">Directionality score</text>
<line x1="434.40" y1="818.20" x2="648.20" y2="654.30" stroke="#808080" stroke-width="2.3" stroke-linecap="butt" stroke-dasharray="6.5,3.8"/>
<circle cx="431.6" cy="755.7" r="2.6" fill="none" stroke="#737373" stroke-width="2.1"/>
<circle cx="468.7" cy="774.6" r="2.6" fill="none" stroke="#737373" stroke-width="2.1"/>
<circle cx="484.2" cy="788.2" r="2.6" fill="none" stroke="#737373" stroke-width="2.1"/>
<circle cx="493.5" cy="708.9" r="2.6" fill="none" stroke="#737373" stroke-width="2.1"/>
<circle cx="507.0" cy="708.9" r="2.6" fill="none" stroke="#737373" stroke-width="2.1"/>
<circle cx="513.2" cy="715.4" r="2.6" fill="none" stroke="#737373" stroke-width="2.1"/>
<circle cx="538.0" cy="661.3" r="2.6" fill="none" stroke="#737373" stroke-width="2.1"/>
<circle cx="546.1" cy="688.0" r="2.6" fill="none" stroke="#737373" stroke-width="2.1"/>
<circle cx="568.9" cy="714.7" r="2.6" fill="none" stroke="#737373" stroke-width="2.1"/>
<circle cx="575.5" cy="713.5" r="2.6" fill="none" stroke="#737373" stroke-width="2.1"/>
<circle cx="613.0" cy="718.5" r="2.6" fill="none" stroke="#737373" stroke-width="2.1"/>
<circle cx="642.0" cy="652.8" r="2.6" fill="none" stroke="#737373" stroke-width="2.1"/>
<circle cx="566.2" cy="761.1" r="2.6" fill="none" stroke="#737373" stroke-width="2.1"/>
<circle cx="515.5" cy="813.3" r="2.6" fill="none" stroke="#737373" stroke-width="2.1"/>
<circle cx="502.0" cy="863.6" r="2.6" fill="none" stroke="#737373" stroke-width="2.1"/>
<circle cx="440.2" cy="832.8" r="2.7" fill="#666" stroke="#666" stroke-width="2.0"/>
<circle cx="440.2" cy="834.3" r="2.7" fill="#666" stroke="#666" stroke-width="2.0"/>
<circle cx="440.2" cy="835.8" r="2.7" fill="#666" stroke="#666" stroke-width="2.0"/>
<circle cx="440.2" cy="837.0" r="2.7" fill="#666" stroke="#666" stroke-width="2.0"/>
<text x="524.60" y="837.40" font-size="15" text-anchor="start" font-weight="normal" fill="#111" font-style="italic">r</text>
<text x="531.00" y="842.30" font-size="10" text-anchor="start" font-weight="normal" fill="#111">P</text>
<text x="542.25" y="837.40" font-size="15" text-anchor="start" font-weight="normal" fill="#111">=</text>
<text x="556.00" y="837.40" font-size="15" text-anchor="start" font-weight="normal" fill="#111">0.74;</text>
<text x="593.20" y="837.40" font-size="15" text-anchor="start" font-weight="normal" fill="#111" font-style="italic">P</text>
<text x="604.80" y="842.30" font-size="10" text-anchor="start" font-weight="normal" fill="#111">P</text>
<text x="615.95" y="837.40" font-size="15" text-anchor="start" font-weight="normal" fill="#111">=</text>
<text x="630.50" y="837.40" font-size="15" text-anchor="start" font-weight="normal" fill="#111">1</text>
<text x="641.75" y="837.40" font-size="15" text-anchor="start" font-weight="normal" fill="#111">×</text>
<text x="655.40" y="837.40" font-size="15" text-anchor="start" font-weight="normal" fill="#111">10</text>
<text x="672.70" y="832.40" font-size="10" text-anchor="start" font-weight="normal" fill="#111">−4</text>
</svg>
</body></html>
